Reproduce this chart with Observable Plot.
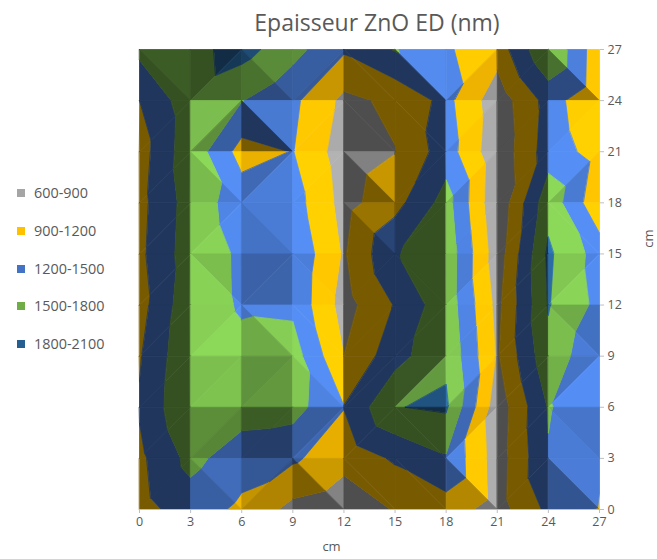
<!DOCTYPE html>
<html>
<head>
<meta charset="utf-8">
<script src="https://cdn.jsdelivr.net/npm/d3@7"></script>
<script src="https://cdn.jsdelivr.net/npm/@observablehq/plot@0.6"></script>
<style>
html,body{margin:0;padding:0;background:#fff;}
#wrap{position:relative;width:657px;height:559px;font-family:"Open Sans",sans-serif;color:#595959;overflow:hidden;}
#title{position:absolute;left:139px;width:476px;top:7px;text-align:center;font-size:23px;line-height:30px;}
#chart{position:absolute;left:0;top:0;}
#chart svg g[aria-label="line"]{filter:blur(0.5px);}
#legend{position:absolute;left:0;top:0;}
.item{position:absolute;left:17px;font-size:14.4px;line-height:18px;white-space:nowrap;}
.item i{display:inline-block;width:8px;height:8px;margin-right:9px;vertical-align:1px;}
</style>
</head>
<body>
<div id="wrap"><div id="chart"></div><div id="title">Epaisseur ZnO ED (nm)</div><div id="legend"></div></div>
<script>
const xCm = [0,3,6,9,12,15,18,21,24,27];
const yCm = [27,24,21,18,15,12,9,6,3,0];
const row27 = [1580,1700,1920,1600,1240,1520,1233,1023,1790,1000];
const row24 = [1200,1684,1510,1266,825,966,1287,720,1310,982];
const row21 = [1060,1700,1081,1210,740,890,1350,680,1350,1082];
const row18 = [1104,1640,1371,1336,790,1095,1620,650,1700,961];
const row15 = [1130,1665,1454,1450,865,1475,1700,725,1850,1366];
const row12 = [1080,1720,1458,1433,780,1220,1690,810,1820,1415];
const row9  = [1170,1770,1600,1640,900,1384,1750,860,1720,1210];
const row6  = [1230,1795,1650,1620,1210,1790,1840,715,1520,1300];
const row3  = [1134,1590,1325,1250,1000,1240,1468,745,1480,1220];
const row0  = [1090,1347,1140,807,700,920,1060,765,1270,1190];
const grid = [row27,row24,row21,row18,row15,row12,row9,row6,row3,row0];
// which diagonal splits each cell: a = top-left to bottom-right, b = bottom-left to top-right
const splits = ["ababaabba","bbabaabbb","babbabbbb","bbaaabbba","babababbb","bbaabbbba","bbbabbbbb","bbbbbabba","babaaaaba"];
const bandNames = ["600-900","900-1200","1200-1500","1500-1800","1800-2100"];
const bandLow = [600,900,1200,1500,1800];
const bandColors = ["#A5A5A5","#FFC000","#4472C4","#70AD47","#255E91"];

const lightXFalling = 0.8, lightXRising = 1.2, lightYFalling = 0.95, lightYRising = 0.4, lightZ = 0.85, k = 0.002;
function shade(tri){
  const [p,q,r] = tri;
  const ax=q.x-p.x, ay=q.y-p.y, az=q.z-p.z, bx=r.x-p.x, by=r.y-p.y, bz=r.z-p.z;
  const det = ax*by-ay*bx;
  const zx = (az*by-ay*bz)/det*3, zy = (ax*bz-az*bx)/det*3;
  const nx=-zx*k, ny=-zy*k, len=Math.hypot(nx,ny,1);
  const f=(nx*(nx>0?lightXFalling:lightXRising)+ny*(ny>0?lightYFalling:lightYRising)+lightZ)/len;
  return Math.max(0.47,Math.min(1.25,f));
}
function clip(poly,lim,keepAbove){
  const out=[];
  for(let i=0;i<poly.length;i++){
    const a=poly[i], b=poly[(i+1)%poly.length];
    const ina=keepAbove?a.z>=lim:a.z<=lim, inb=keepAbove?b.z>=lim:b.z<=lim;
    if(ina) out.push(a);
    if(ina!==inb){const t=(lim-a.z)/(b.z-a.z);out.push({x:a.x+t*(b.x-a.x),y:a.y+t*(b.y-a.y),z:lim});}
  }
  return out;
}
function tint(hex,f,b){
  if(f>1 && (b===1||b===0)) f=1+(f-1)*0.35;
  const c=d3.rgb(hex);
  return d3.rgb(Math.min(255,c.r*f),Math.min(255,c.g*f),Math.min(255,c.b*f)).formatHex();
}
const polys=[]; let id=0;
for(let j=0;j<9;j++)for(let i=0;i<9;i++){
  const P=(c,r)=>({x:xCm[c],y:yCm[r],z:grid[r][c]});
  const tl=P(i,j),tr=P(i+1,j),bl=P(i,j+1),br=P(i+1,j+1);
  const tris=splits[j][i]==="a"?[[tl,tr,br],[tl,br,bl]]:[[tl,tr,bl],[tr,br,bl]];
  for(const tri of tris){
    const f=shade(tri);
    bandLow.forEach((lo,b)=>{
      let poly=clip(tri,lo,true);
      if(poly.length) poly=clip(poly,lo+300,false);
      if(poly.length<3) return;
      const fill=tint(bandColors[b],f,b);
      id++;
      for(const v of poly) polys.push({id,x:v.x,y:v.y,fill});
    });
  }
}
const plot=Plot.plot({
  width:657,height:559,marginLeft:139,marginRight:58,marginTop:49,marginBottom:50,
  style:{background:"transparent",fontFamily:'"Open Sans",sans-serif',fontSize:"12.5px",color:"#595959"},
  x:{domain:[0,27],label:null},
  y:{domain:[0,27],label:null},
  color:{type:"identity"},
  marks:[
    Plot.line(polys,{x:"x",y:"y",z:"id",fill:"fill",stroke:"fill",strokeWidth:0.8,curve:"linear-closed"}),
    Plot.axisX({ticks:xCm,tickFormat:d=>d,tickSize:4,tickPadding:4,stroke:"#bfbfbf",color:"#595959",label:null}),
    Plot.axisY({anchor:"right",ticks:yCm,tickFormat:d=>d,tickSize:4,tickPadding:4,stroke:"#bfbfbf",color:"#595959",label:null}),
    Plot.ruleY([0],{stroke:"#bfbfbf"}),
    Plot.text(["cm"],{frameAnchor:"bottom",dx:-38,dy:41,fill:"#595959",fontSize:13}),
    Plot.text(["cm"],{frameAnchor:"right",dx:49,dy:-50,rotate:-90,fill:"#595959",fontSize:13})
  ]
});
document.getElementById("chart").appendChild(plot);
const tops=[184,222,260,297,335];
const legend=document.getElementById("legend");
bandNames.forEach((n,i)=>{
  const d=document.createElement("div");d.className="item";d.style.top=tops[i]+"px";
  const s=document.createElement("i");s.style.background=bandColors[i];
  d.appendChild(s);d.appendChild(document.createTextNode(n));legend.appendChild(d);
});
</script>
</body>
</html>
